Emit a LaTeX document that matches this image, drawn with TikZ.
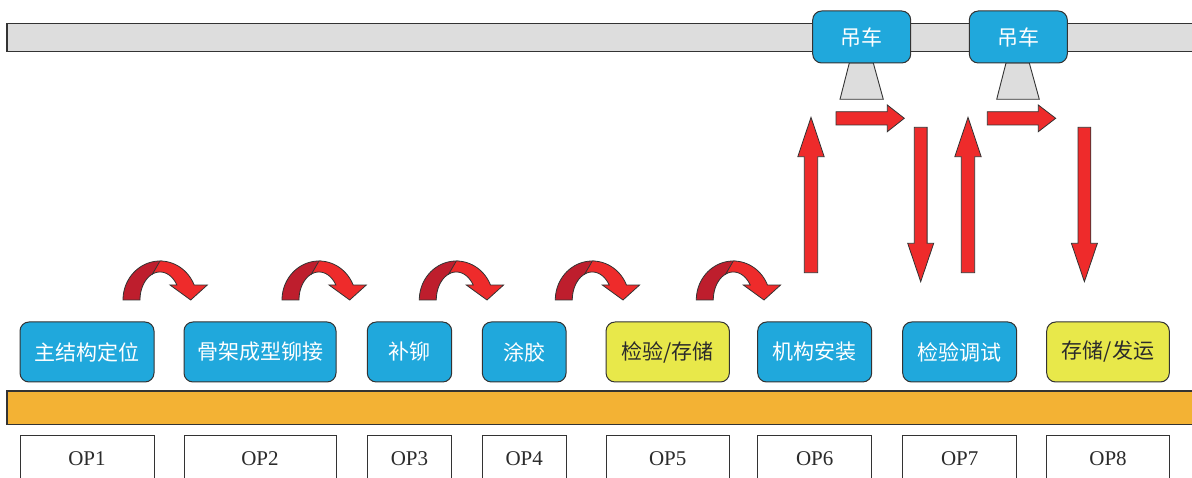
\documentclass[tikz,border=0pt]{standalone}
\usepackage{fontspec}
\setmainfont{Liberation Serif}
\newfontfamily\cjk{Noto Sans CJK SC}

\definecolor{procblue}{HTML}{20A8DC}
\definecolor{procyellow}{HTML}{E8E84A}
\definecolor{beltorange}{HTML}{F3B234}
\definecolor{railgray}{HTML}{DDDDDD}
\definecolor{arrred}{HTML}{EE2B2B}
\definecolor{arrdark}{HTML}{BE1E2D}
\definecolor{edge}{HTML}{333333}
\definecolor{txtdark}{HTML}{2B2B2B}

% straight block arrows: up (centre x), down (centre x), right (start, head base, tip)
\newcommand\BlockUp[1]{\filldraw[blk] ({#1-6.7},272.7) -- ({#1-6.7},156.7) -- ({#1-13.2},156.7) -- (#1,117.3) -- ({#1+13.2},156.7) -- ({#1+6.7},156.7) -- ({#1+6.7},272.7) -- cycle;}
\newcommand\BlockDown[1]{\filldraw[blk] ({#1-6.4},127.3) -- ({#1+6.4},127.3) -- ({#1+6.4},243.3) -- ({#1+13},243.3) -- (#1,281.7) -- ({#1-13},243.3) -- ({#1-6.4},243.3) -- cycle;}
\newcommand\BlockRight[3]{\filldraw[blk] (#1,111.7) -- (#2,111.7) -- (#2,105) -- (#3,118.3) -- (#2,131.7) -- (#2,125) -- (#1,125) -- cycle;}
% curved hop arrow between neighbouring stations, centred at x = #1
\newcommand\HopArrow[1]{%
  \begin{scope}[shift={(#1,300)}]
    \filldraw[blk,fill=arrdark] plot[domain=180:88,samples=40] ({37*cos(\x)},{-39*sin(\x)})
      -- plot[domain=112:180,samples=40] ({20*cos(\x)},{-28*sin(\x)}) -- cycle;
    \filldraw[blk] plot[domain=90:22.6,samples=40] ({37*cos(\x)},{-39*sin(\x)})
      -- (47.3,-15) -- (30.7,0) -- (10,-15)
      -- plot[domain=32.4:112,samples=40] ({20*cos(\x)},{-28*sin(\x)}) -- cycle;
  \end{scope}}

\begin{document}
\begin{tikzpicture}[x=1pt,y=-1pt,
  box/.style={draw=edge,line width=1pt,rounded corners=9pt,minimum height=60pt,
    inner sep=0pt,font=\cjk\fontsize{21}{25}\selectfont},
  bluebox/.style={box,fill=procblue,text=white},
  yelbox/.style={box,fill=procyellow,text=txtdark},
  opbox/.style={draw=edge,line width=0.9pt,fill=white,minimum height=48pt,
    inner sep=0pt,font=\fontsize{21}{24}\selectfont,text=txtdark},
  blk/.style={fill=arrred,draw=edge,line width=0.8pt,line join=miter},
  bar/.style={draw=edge,line width=1.2pt}]
\useasboundingbox (0,0) rectangle (1192,478);
\clip (0,0) rectangle (1192,478);

% overhead crane rail and conveyor line
\draw[bar,fill=railgray] (7,23.5) rectangle (1200,51.5);
\draw[bar,fill=beltorange] (7,391) rectangle (1200,424.5);

% crane hooks
\draw[fill=railgray,draw=edge,line width=0.9pt] (849.3,63) -- (873.3,63) -- (883.3,99.3) -- (840,99.3) -- cycle;
\draw[fill=railgray,draw=edge,line width=0.9pt] (1006,63) -- (1029.3,63) -- (1039.3,99.3) -- (996.7,99.3) -- cycle;

% cranes
\node[bluebox,minimum width=98pt,minimum height=52pt] (crane1) at (861.7,37) {吊车};
\node[bluebox,minimum width=98pt,minimum height=52pt] (crane2) at (1018.3,37) {吊车};

% process stations
\node[bluebox,minimum width=134pt]   (p1) at (87,352)    {主结构定位};
\node[bluebox,minimum width=152pt]   (p2) at (260,352)   {骨架成型铆接};
\node[bluebox,minimum width=84.4pt]  (p3) at (409.5,352) {补铆};
\node[bluebox,minimum width=83.7pt]  (p4) at (524.2,352) {涂胶};
\node[yelbox, minimum width=123.3pt] (p5) at (667.7,352) {检验/存储};
\node[bluebox,minimum width=114pt]   (p6) at (814.7,352) {机构安装};
\node[bluebox,minimum width=114pt]   (p7) at (959.7,352) {检验调试};
\node[yelbox, minimum width=122.6pt] (p8) at (1108,352)  {存储/发运};

% operation labels
\node[opbox,minimum width=134pt]   (op1) at (87,459)    {OP1};
\node[opbox,minimum width=152pt]   (op2) at (260,459)   {OP2};
\node[opbox,minimum width=84.4pt]  (op3) at (409.5,459) {OP3};
\node[opbox,minimum width=83.7pt]  (op4) at (524.2,459) {OP4};
\node[opbox,minimum width=123.3pt] (op5) at (667.7,459) {OP5};
\node[opbox,minimum width=114pt]   (op6) at (814.7,459) {OP6};
\node[opbox,minimum width=114pt]   (op7) at (959.7,459) {OP7};
\node[opbox,minimum width=122.6pt] (op8) at (1108,459)  {OP8};

% transfers along the line
\HopArrow{160}
\HopArrow{319}
\HopArrow{456.3}
\HopArrow{592.3}
\HopArrow{733.3}

% crane transfers
\BlockUp{811}
\BlockRight{836}{887.3}{904.3}
\BlockDown{920.7}
\BlockUp{968}
\BlockRight{987.3}{1038.3}{1055.7}
\BlockDown{1084.4}
\end{tikzpicture}
\end{document}
